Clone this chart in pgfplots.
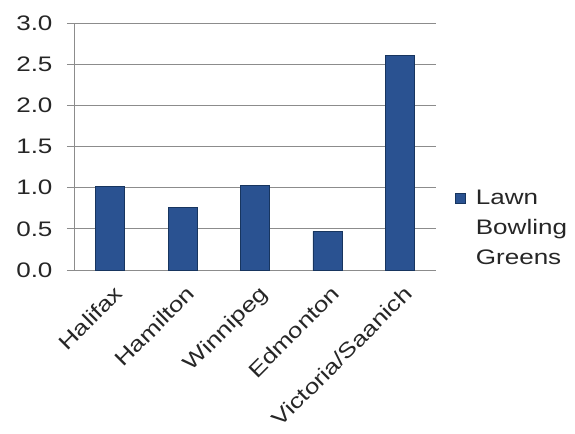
\documentclass[border=0pt]{standalone}
\usepackage{pgfplots}
\pgfplotsset{compat=1.18}
\usepackage{fontspec}
\setmainfont[FakeStretch=1.24]{Liberation Sans}
\definecolor{bardark}{HTML}{17355F}
\definecolor{barmid}{HTML}{2A5291}
\definecolor{gridc}{HTML}{8C8C8C}
\definecolor{txt}{HTML}{262626}
\begin{document}
\begin{tikzpicture}
\useasboundingbox (-74bp,-164bp) rectangle (501bp,270bp);
\begin{axis}[
  at={(0,0)}, anchor=south west,
  scale only axis,
  width=362bp, height=247bp,
  ymin=0, ymax=3, ytick={0,0.5,...,3.0},
  xmin=-0.5, xmax=4.5,
  xtick={0,1,2,3,4},
  xticklabels={Halifax,Hamilton,Winnipeg,Edmonton,Victoria/Saanich},
  extra x ticks={-0.5,0.5,1.5,2.5,3.5,4.5},
  extra x tick labels={},
  extra x tick style={major tick length=7bp, tick style={gridc, line width=0.8bp}},
  x tick style={draw=none},
  y tick style={gridc, line width=0.8bp},
  major tick length=7bp,
  tick align=outside,
  ymajorgrids,
  grid style={gridc, line width=0.8bp},
  axis x line*=bottom, axis y line*=left,
  separate axis lines,
  x axis line style={gridc, line width=0.8bp, draw=gridc, -},
  y axis line style={gridc, line width=0.8bp, draw=gridc, -},
  y tick label style={/pgf/number format/.cd, fixed, fixed zerofill, precision=1, /tikz/.cd, font=\fontsize{21bp}{24bp}\selectfont, text=txt, xshift=-11bp},
  /pgf/number format/assume math mode=true,
  x tick label style={rotate=45, anchor=north east, font=\fontsize{21bp}{24bp}\selectfont, text=txt, inner sep=2bp, xshift=-1bp, yshift=-5bp},
  ybar, bar width=29bp,
  legend style={at={(1.045,0.17)}, anchor=west, draw=none, fill=none, font=\fontsize{21bp}{30bp}\selectfont, text=txt, align=left, legend cell align=left},
  legend image code/.code={\path[draw=none,fill=none] (0bp,0bp) -- (18bp,0bp);\draw[fill=barmid, draw=bardark] (0bp,25bp) rectangle (10bp,35bp);},
]
\addplot[draw=bardark, fill=barmid, line width=0.8bp] coordinates {(0,1.01) (1,0.76) (2,1.03) (3,0.47) (4,2.61)};
\addlegendentry{Lawn\\Bowling\\Greens}
\end{axis}
\end{tikzpicture}
\end{document}
